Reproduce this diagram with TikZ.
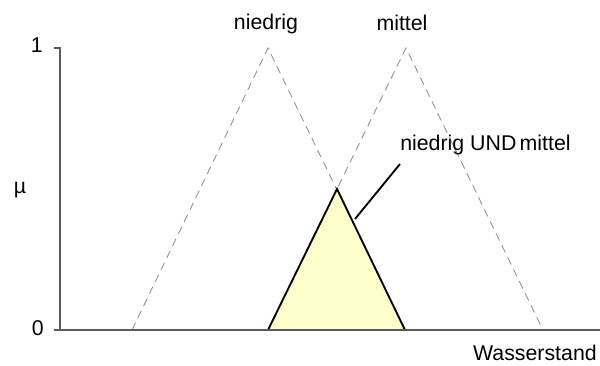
\documentclass[tikz,border=0pt]{standalone}
\usepackage{fontspec}
\setmainfont{Liberation Sans}
\definecolor{cutfill}{HTML}{FFFFCC}
\definecolor{axisgray}{HTML}{5A5A5A}
\definecolor{setgray}{HTML}{8A8A8A}
\begin{document}
\begin{tikzpicture}[x=0.75pt,y=-0.75pt,
  lbl/.style={font=\fontsize{16}{18}\selectfont, inner sep=0pt},
  axis/.style={draw=axisgray, line width=1.1pt},
  member/.style={draw=setgray, dash pattern=on 6pt off 4pt, line width=0.6pt},
  cutside/.style={draw=black, line width=1.4pt, line join=miter},
  leader/.style={draw=black, line width=1.4pt}]
\useasboundingbox (0,0) rectangle (600,365);

% axis reference points
\coordinate (ytop) at (60,48);
\coordinate (orig) at (60,330);
\coordinate (tick1) at (54,48);
\coordinate (tick0) at (54,330);
\coordinate (xend) at (600,330);

% fuzzy set "niedrig"
\coordinate (nl) at (132,330);
\coordinate (np) at (268,48);
\coordinate (nr) at (405,330);
% fuzzy set "mittel"
\coordinate (ml) at (268,330);
\coordinate (mp) at (406,48);
\coordinate (mr) at (543,330);
% peak of the intersection
\coordinate (cp) at (337,189);

\draw[member] (nl) -- (np) -- (nr);
\draw[member] (ml) -- (mp) -- (mr);

% intersection (minimum) of both sets
\fill[cutfill] (ml) -- (cp) -- (nr) -- cycle;
\draw[cutside] (ml) -- (cp) -- (nr);

% axes
\draw[axis] (tick1) -- (ytop) -- (orig);
\draw[axis] (tick0) -- (xend);

% labels
\node[lbl, anchor=base east] (one) at (43,52) {1};
\node[lbl, anchor=base east] (zero) at (44,335) {0};
\node[lbl, anchor=base] (mu) at (20,193) {µ};
\node[lbl, anchor=base] (lnied) at (266,29) {niedrig};
\node[lbl, anchor=base] (lmit) at (402,30) {mittel};
\node[lbl, anchor=base west] (und) at (400,150) {niedrig UND\hspace{-2pt} mittel};
\node[lbl, anchor=base east] (xlab) at (597,360) {Wasserstand};

% leader from the label to the intersection
\coordinate (leadtop) at (400,164);
\coordinate (leadbot) at (355,219);
\draw[leader] (leadtop) -- (leadbot);
\end{tikzpicture}
\end{document}
